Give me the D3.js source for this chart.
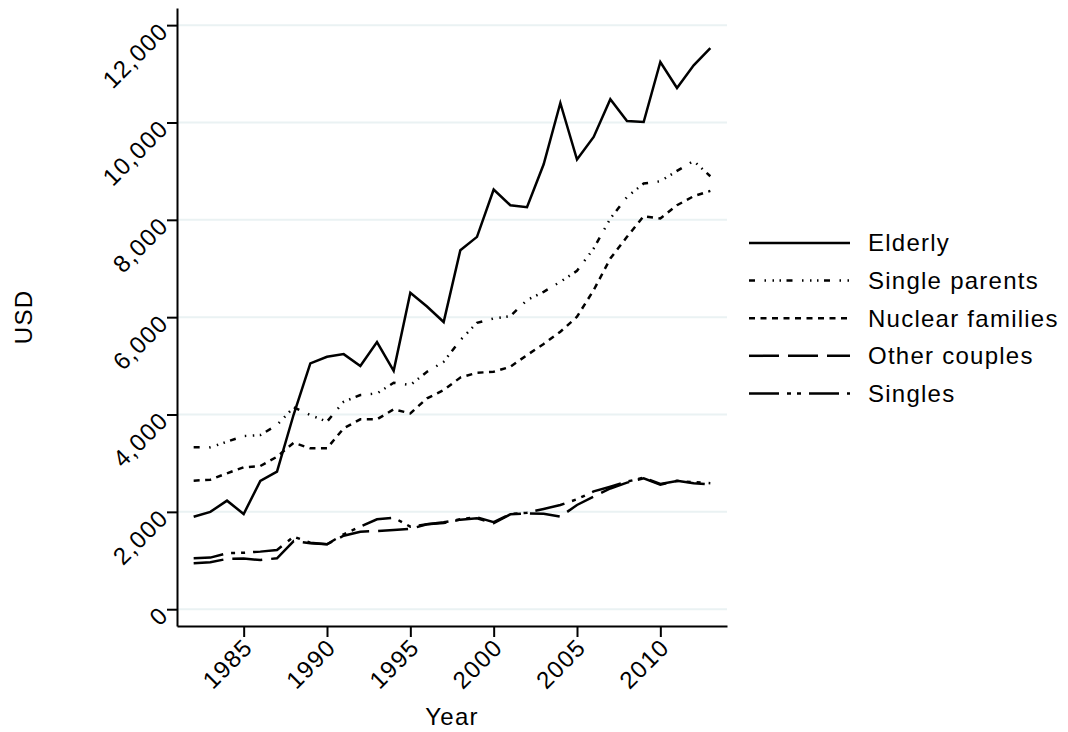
<!DOCTYPE html>
<html>
<head>
<meta charset="utf-8">
<title>USD by household type</title>
<script src="https://d3js.org/d3.v7.min.js"></script>
<style>
  body { margin: 0; background: #fff; }
  text { font-family: "Liberation Sans", Arial, sans-serif; font-size: 24px; letter-spacing: 1.25px; fill: #000; }
</style>
</head>
<body>
<div id="chart"></div>
<script>
// data
let years = d3.range(1982, 2014);

let elderly = [1900, 2000, 2230, 1956, 2634, 2825, 4000, 5050, 5186, 5241, 4995, 5488, 4899, 6500, 6220, 5900,
               7377, 7650, 8622, 8300, 8259, 9142, 10400, 9238, 9703, 10477, 10031, 10010, 11243, 10708, 11175, 11530];
let singleParents = [3325, 3325, 3441, 3558, 3578, 3784, 4147, 3989, 3852, 4262, 4400, 4434, 4652, 4605, 4878, 5083,
                     5529, 5884, 5974, 6021, 6350, 6521, 6726, 6952, 7411, 8027, 8471, 8746, 8793, 9005, 9210, 8896];
let nuclear = [2641, 2661, 2792, 2915, 2942, 3133, 3420, 3305, 3305, 3716, 3901, 3901, 4106, 4024, 4332, 4502,
               4760, 4858, 4878, 4981, 5221, 5450, 5700, 6008, 6555, 7206, 7650, 8075, 8027, 8300, 8485, 8594];
let otherCouples = [944, 965, 1033, 1040, 1010, 1047, 1400, 1353, 1334, 1510, 1593, 1607, 1628, 1650, 1745, 1770,
                    1840, 1870, 1766, 1950, 1970, 1960, 1901, 2141, 2312, 2480, 2600, 2690, 2560, 2640, 2590, 2560];
let singles = [1047, 1060, 1150, 1160, 1183, 1217, 1490, 1367, 1334, 1540, 1696, 1848, 1881, 1696, 1745, 1786,
               1848, 1889, 1790, 1957, 1984, 2060, 2141, 2260, 2420, 2517, 2620, 2702, 2572, 2634, 2610, 2590];

let seriesNames = ["Elderly", "Single parents", "Nuclear families", "Other couples", "Singles"];
let seriesValues = [elderly, singleParents, nuclear, otherCouples, singles];
let dashes = ["none", "6,9.5,1.5,6.5,1.5,5.5,1.5,5.5", "6,5.5", "30,9", "30,8,4,6,4,8"];

let yTicks = [0, 2000, 4000, 6000, 8000, 10000, 12000];
let xTicks = [1985, 1990, 1995, 2000, 2005, 2010];

// plot area edges
let W = 1068, H = 732;
let plotL = 177, plotR = 727, plotT = 8, plotB = 626;

let svg = d3.select("#chart").append("svg")
    .attr("width", W)
    .attr("height", H);

let xScale = d3.scaleLinear().domain([1981, 2014]).range([plotL, plotR]);
let yScale = d3.scaleLinear().domain([-345, 12352]).range([plotB, plotT]);

// gridlines
svg.append("g")
   .selectAll("line")
   .data(yTicks)
   .enter()
   .append("line")
   .attr("x1", plotL).attr("x2", plotR)
   .attr("y1", d => yScale(d)).attr("y2", d => yScale(d))
   .attr("stroke", "#eaf2f3")
   .attr("stroke-width", 2);

// axes
let yAxis = d3.axisLeft(yScale)
    .tickValues(yTicks)
    .tickSize(10)
    .tickSizeOuter(0)
    .tickFormat(d3.format(","));

let gy = svg.append("g")
    .attr("transform", "translate(" + plotL + ",0)")
    .call(yAxis);
gy.select(".domain").attr("stroke-width", 2);
gy.selectAll(".tick line").attr("stroke-width", 2);
gy.selectAll(".tick text")
    .attr("x", null)
    .attr("text-anchor", "end")
    .attr("transform", "translate(-13,1) rotate(-45)")
    .attr("dy", "0.35em");

let xAxis = d3.axisBottom(xScale)
    .tickValues(xTicks)
    .tickSize(11)
    .tickSizeOuter(0)
    .tickFormat(d3.format("d"));

let gx = svg.append("g")
    .attr("transform", "translate(0," + plotB + ")")
    .call(xAxis);
gx.select(".domain").attr("stroke-width", 2);
gx.selectAll(".tick line").attr("stroke-width", 2);
gx.selectAll(".tick text")
    .attr("y", null)
    .attr("text-anchor", "end")
    .attr("transform", "translate(4,17) rotate(-45)")
    .attr("dy", "0.35em");

// d3 puts font attrs on the axis group; let the css win
svg.selectAll("g").attr("font-size", null).attr("font-family", null);
svg.selectAll(".domain").attr("stroke", "#000");
svg.selectAll(".tick line").attr("stroke", "#000");

// axis titles
svg.append("text")
   .attr("x", (plotL + plotR) / 2)
   .attr("y", 725)
   .attr("text-anchor", "middle")
   .text("Year");

svg.append("text")
   .attr("transform", "translate(32," + ((plotT + plotB) / 2) + ") rotate(-90)")
   .attr("text-anchor", "middle")
   .text("USD");

// lines
let line = d3.line()
    .x((d, i) => xScale(years[i]))
    .y(d => yScale(d));

svg.append("g")
   .selectAll("path")
   .data(seriesValues)
   .enter()
   .append("path")
   .attr("d", d => line(d))
   .attr("fill", "none")
   .attr("stroke", "#000")
   .attr("stroke-width", 2.5)
   .attr("stroke-dasharray", (d, i) => dashes[i] === "none" ? null : dashes[i]);

// legend
let legend = svg.append("g")
    .selectAll("g")
    .data(seriesNames)
    .enter()
    .append("g")
    .attr("transform", (d, i) => "translate(749," + (243 + i * 37.6) + ")");

legend.append("line")
    .attr("x1", 0).attr("x2", 101)
    .attr("stroke", "#000")
    .attr("stroke-width", 2.5)
    .attr("stroke-dasharray", (d, i) => dashes[i] === "none" ? null : dashes[i]);

legend.append("text")
    .attr("x", 119)
    .attr("dy", "0.35em")
    .text(d => d);
</script>
</body>
</html>
